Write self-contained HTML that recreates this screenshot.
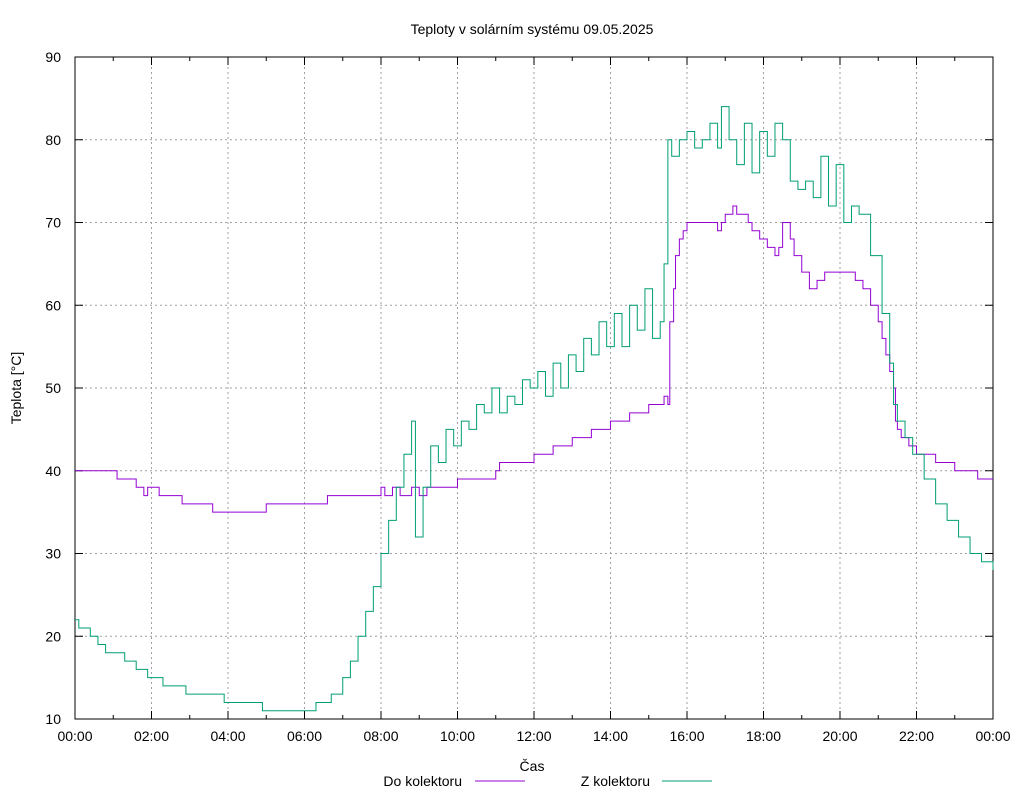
<!DOCTYPE html>
<html><head><meta charset="utf-8"><style>
body{margin:0;background:#fff;}
svg{display:block;font-family:"Liberation Sans",sans-serif;}
</style></head><body>
<svg id="chart" width="1024" height="800">
<text x="532" y="34" text-anchor="middle" font-size="14">Teploty v solárním systému 09.05.2025</text>
<g id="grid"></g><g id="axes"></g><g id="series"></g>
<text x="532" y="771" text-anchor="middle" font-size="14">Čas</text>
<text transform="translate(21,388) rotate(-90)" text-anchor="middle" font-size="14">Teplota [°C]</text>
<g>
<text x="462" y="786" text-anchor="end" font-size="14">Do kolektoru</text>
<line x1="475" y1="781" x2="525" y2="781" stroke="#9400d3" stroke-width="1"/>
<text x="650" y="786" text-anchor="end" font-size="14">Z kolektoru</text>
<line x1="662" y1="781" x2="712" y2="781" stroke="#009e73" stroke-width="1"/>
</g>
</svg>
<script>
const xTicks=["00:00","02:00","04:00","06:00","08:00","10:00","12:00","14:00","16:00","18:00","20:00","22:00","00:00"];
const yTicks=[10,20,30,40,50,60,70,80,90];
const doTimes=[0,1.1,1.6,1.8,1.9,2.2,2.8,3.6,3.7,5.0,6.6,8.0,8.1,8.3,8.5,8.8,9.0,9.2,9.6,10.0,11.0,11.1,11.2,12.0,12.5,13.0,13.5,14.0,14.5,15.0,15.4,15.5,15.55,15.65,15.7,15.8,15.9,16.0,16.1,16.2,16.8,16.9,17.0,17.2,17.3,17.6,17.7,17.9,18.1,18.3,18.4,18.5,18.7,18.8,19.0,19.2,19.4,19.6,19.7,20.2,20.4,20.6,20.8,21.0,21.1,21.2,21.3,21.4,21.45,21.5,21.6,21.8,22.0,22.5,23.0,23.6,24];
const doVals=[40,39,38,37,38,37,36,35,35,36,37,38,37,38,37,38,37,38,38,39,40,41,41,42,43,44,45,46,47,48,49,48,58,62,66,68,69,70,70,70,69,70,71,72,71,70,69,68,67,66,67,70,68,66,64,62,63,64,64,64,63,62,60,58,56,54,52,50,46,45,44,43,42,41,40,39,39];
const zTimes=[0,0.1,0.4,0.6,0.8,1.3,1.6,1.9,2.3,2.9,3.9,4.9,6.3,6.7,7.0,7.2,7.4,7.6,7.8,8.0,8.2,8.4,8.6,8.8,8.9,9.1,9.3,9.5,9.7,9.9,10.1,10.3,10.5,10.7,10.9,11.1,11.3,11.5,11.7,11.9,12.1,12.3,12.5,12.7,12.9,13.1,13.3,13.5,13.7,13.9,14.1,14.3,14.5,14.7,14.9,15.1,15.3,15.4,15.5,15.6,15.8,16.0,16.2,16.4,16.6,16.8,16.9,17.1,17.3,17.5,17.7,17.9,18.1,18.3,18.5,18.7,18.9,19.1,19.3,19.5,19.7,19.9,20.1,20.3,20.5,20.8,21.1,21.3,21.4,21.5,21.7,21.9,22.2,22.5,22.8,23.1,23.4,23.7,24];
const zVals=[22,21,20,19,18,17,16,15,14,13,12,11,12,13,15,17,20,23,26,30,34,38,42,46,32,38,43,41,45,43,46,45,48,47,50,47,49,48,51,50,52,49,53,50,54,52,56,54,58,55,59,55,60,57,62,56,58,65,80,78,80,81,79,80,82,79,84,80,77,82,76,81,78,82,80,75,74,75,73,78,72,77,70,72,71,66,59,53,48,46,44,42,39,36,34,32,30,29,28];
const L=75,R=993,T=57,B=719;
const xs=h=>L+(R-L)*h/24, ys=v=>B-(B-T)*(v-10)/80;
const NS="http://www.w3.org/2000/svg";
function mk(tag,attrs,parent){const e=document.createElementNS(NS,tag);for(const k in attrs)e.setAttribute(k,attrs[k]);parent.appendChild(e);return e;}
const grid=document.getElementById('grid'),axes=document.getElementById('axes'),ser=document.getElementById('series');
xTicks.forEach((t,i)=>{const x=xs(i*2);
 if(i>0&&i<12){const g=mk('line',{x1:x,x2:x,y1:T,y2:B,stroke:'#a0a0a0','stroke-dasharray':'2,3'},grid);
 
 }
 const tx=mk('text',{x:x,y:741,'text-anchor':'middle','font-size':'14'},axes);tx.textContent=t;
 
 
});
for(let h=0;h<=24;h++){const x=xs(h),len=h%2?4:8;mk('line',{x1:x,x2:x,y1:B,y2:B-len,stroke:'#000'},axes);mk('line',{x1:x,x2:x,y1:T,y2:T+len,stroke:'#000'},axes);}
yTicks.forEach(v=>{const y=ys(v);
 if(v>10&&v<90){const g=mk('line',{x1:L,x2:R,y1:y,y2:y,stroke:'#a0a0a0','stroke-dasharray':'2,3'},grid);
 
 }
 mk('line',{x1:L,x2:L+8,y1:y,y2:y,stroke:'#000'},axes);mk('line',{x1:R,x2:R-8,y1:y,y2:y,stroke:'#000'},axes);
 const tx=mk('text',{x:61,y:y+5,'text-anchor':'end','font-size':'14'},axes);tx.textContent=v;
 
 
});
const fr=mk('rect',{x:L,y:T,width:R-L,height:B-T,fill:'none',stroke:'#000'},axes);


function step(ts,vs){let d='M'+xs(ts[0])+','+ys(vs[0]);for(let i=1;i<ts.length;i++){d+=' H'+xs(ts[i])+' V'+ys(vs[i]);}return d;}
const p1=mk('path',{d:step(doTimes,doVals),fill:'none',stroke:'#9400d3','stroke-width':1},ser);


const p2=mk('path',{d:step(zTimes,zVals),fill:'none',stroke:'#009e73','stroke-width':1},ser);


</script>
</body></html>
